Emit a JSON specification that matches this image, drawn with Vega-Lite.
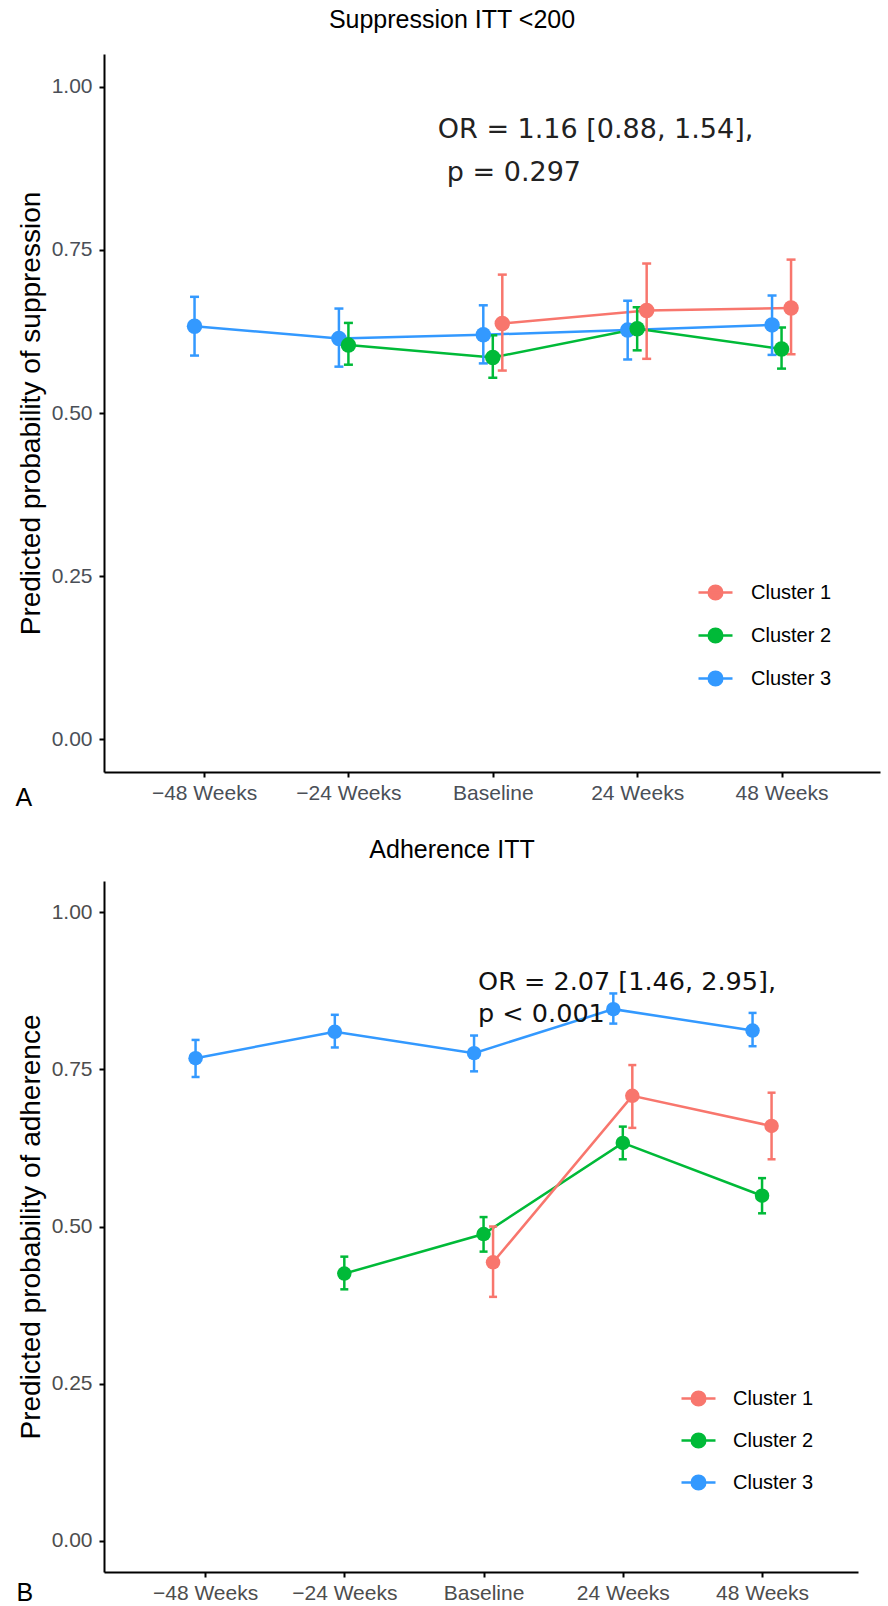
{
  "$schema": "https://vega.github.io/schema/vega-lite/v6.json",
  "background": "white",
  "padding": {"left": 15, "top": 8, "right": 4, "bottom": 4},
  "columns": 1,
  "spacing": 28,
  "resolve": {"legend": {"fill": "independent", "stroke": "independent"}},
  "config": {
    "font": "Liberation Sans",
    "view": {"stroke": null},
    "axis": {"grid": false, "domainColor": "black", "domainWidth": 2, "tickColor": "black", "tickWidth": 2, "tickSize": 5, "labelFontSize": 21, "labelColor": "#4A4F57", "titleFontSize": 28, "titleFontWeight": "normal", "titleColor": "black", "labelFont": "Liberation Sans", "titleFont": "Liberation Sans"},
    "title": {"fontSize": 25, "fontWeight": "normal", "color": "black", "font": "Liberation Sans"},
    "legend": {"title": null, "labelFontSize": 20, "labelColor": "black", "labelFont": "Liberation Sans", "symbolStrokeWidth": 2.5, "symbolOpacity": 1}
  },
  "datasets": {
    "a": [
      {"time": "−48 Weeks", "cluster": "Cluster 3", "p": 0.633, "lo": 0.588, "hi": 0.678},
      {"time": "−24 Weeks", "cluster": "Cluster 3", "p": 0.614, "lo": 0.571, "hi": 0.660},
      {"time": "Baseline", "cluster": "Cluster 3", "p": 0.620, "lo": 0.576, "hi": 0.665},
      {"time": "24 Weeks", "cluster": "Cluster 3", "p": 0.627, "lo": 0.582, "hi": 0.672},
      {"time": "48 Weeks", "cluster": "Cluster 3", "p": 0.635, "lo": 0.589, "hi": 0.680},
      {"time": "−24 Weeks", "cluster": "Cluster 2", "p": 0.604, "lo": 0.574, "hi": 0.638},
      {"time": "Baseline", "cluster": "Cluster 2", "p": 0.585, "lo": 0.554, "hi": 0.619},
      {"time": "24 Weeks", "cluster": "Cluster 2", "p": 0.629, "lo": 0.596, "hi": 0.662},
      {"time": "48 Weeks", "cluster": "Cluster 2", "p": 0.598, "lo": 0.568, "hi": 0.631},
      {"time": "Baseline", "cluster": "Cluster 1", "p": 0.637, "lo": 0.565, "hi": 0.712},
      {"time": "24 Weeks", "cluster": "Cluster 1", "p": 0.657, "lo": 0.583, "hi": 0.729},
      {"time": "48 Weeks", "cluster": "Cluster 1", "p": 0.661, "lo": 0.590, "hi": 0.735}
    ],
    "b": [
      {"time": "−48 Weeks", "cluster": "Cluster 3", "p": 0.768, "lo": 0.738, "hi": 0.797},
      {"time": "−24 Weeks", "cluster": "Cluster 3", "p": 0.810, "lo": 0.785, "hi": 0.837},
      {"time": "Baseline", "cluster": "Cluster 3", "p": 0.776, "lo": 0.747, "hi": 0.804},
      {"time": "24 Weeks", "cluster": "Cluster 3", "p": 0.846, "lo": 0.823, "hi": 0.871},
      {"time": "48 Weeks", "cluster": "Cluster 3", "p": 0.812, "lo": 0.787, "hi": 0.840},
      {"time": "−24 Weeks", "cluster": "Cluster 2", "p": 0.425, "lo": 0.400, "hi": 0.452},
      {"time": "Baseline", "cluster": "Cluster 2", "p": 0.488, "lo": 0.460, "hi": 0.515},
      {"time": "24 Weeks", "cluster": "Cluster 2", "p": 0.633, "lo": 0.607, "hi": 0.659},
      {"time": "48 Weeks", "cluster": "Cluster 2", "p": 0.549, "lo": 0.521, "hi": 0.577},
      {"time": "Baseline", "cluster": "Cluster 1", "p": 0.443, "lo": 0.388, "hi": 0.500},
      {"time": "24 Weeks", "cluster": "Cluster 1", "p": 0.708, "lo": 0.657, "hi": 0.757},
      {"time": "48 Weeks", "cluster": "Cluster 1", "p": 0.660, "lo": 0.607, "hi": 0.713}
    ]
  },
  "concat": [
    {
      "width": 776,
      "height": 718,
      "title": {"text": "Suppression ITT <200", "anchor": "middle", "dx": -40, "offset": 21},
      "layer": [
        {
          "data": {"name": "a"},
          "encoding": {
            "x": {"field": "time", "type": "nominal", "sort": ["−48 Weeks", "−24 Weeks", "Baseline", "24 Weeks", "48 Weeks"],
                  "scale": {"type": "point", "domain": ["−48 Weeks", "−24 Weeks", "Baseline", "24 Weeks", "48 Weeks"], "padding": 0.6874, "align": 0.504},
                  "axis": {"title": "A", "labelAngle": 0, "labelPadding": 5, "titleAnchor": "start", "titleAlign": "left", "titleX": -89, "titleY": 33, "titleBaseline": "alphabetic", "titleFontSize": 25}},
            "xOffset": {"field": "cluster", "type": "nominal", "scale": {"type": "point", "domain": ["Cluster 3", "Cluster 2", "Cluster 1"], "range": [-9.5, 9.5], "padding": 0}},
            "y": {"field": "p", "type": "quantitative", "scale": {"domain": [-0.05, 1.05], "nice": false, "zero": false},
                  "axis": {"title": "Predicted probability of suppression", "values": [0, 0.25, 0.5, 0.75, 1], "format": ".2f", "labelPadding": 7, "titlePadding": 6}}
          },
          "layer": [
            {
              "mark": {"type": "line", "strokeWidth": 2.5},
              "encoding": {
                "stroke": {"field": "cluster", "type": "nominal", "scale": {"domain": ["Cluster 1", "Cluster 2", "Cluster 3"], "range": ["#F8766D", "#00BA38", "#3399FF"]},
                           "legend": {"orient": "none", "legendX": 593, "legendY": 520, "symbolType": "M-1,0L1,0M0.4,0A0.4,0.4,0,1,1,-0.4,0A0.4,0.4,0,1,1,0.4,0Z", "symbolSize": 1156, "labelOffset": 17, "rowPadding": 12}}
              }
            },
            {
              "mark": {"type": "rule", "strokeWidth": 2.5},
              "encoding": {
                "y": {"field": "lo", "type": "quantitative"},
                "y2": {"field": "hi"},
                "stroke": {"field": "cluster", "type": "nominal"}
              }
            },
            {
              "mark": {"type": "tick", "thickness": 2.5, "size": 9, "opacity": 1},
              "encoding": {
                "y": {"field": "lo", "type": "quantitative"},
                "fill": {"field": "cluster", "type": "nominal"}
              }
            },
            {
              "mark": {"type": "tick", "thickness": 2.5, "size": 9, "opacity": 1},
              "encoding": {
                "y": {"field": "hi", "type": "quantitative"},
                "fill": {"field": "cluster", "type": "nominal"}
              }
            },
            {
              "mark": {"type": "point", "filled": true, "size": 240, "opacity": 1, "strokeWidth": 0},
              "encoding": {
                "fill": {"field": "cluster", "type": "nominal", "scale": {"domain": ["Cluster 1", "Cluster 2", "Cluster 3"], "range": ["#F8766D", "#00BA38", "#3399FF"]},
                         "legend": {"orient": "none", "legendX": 593, "legendY": 520, "symbolType": "M-1,0L1,0M0.4,0A0.4,0.4,0,1,1,-0.4,0A0.4,0.4,0,1,1,0.4,0Z", "symbolSize": 1156, "labelOffset": 17, "rowPadding": 12}},
                "stroke": {"field": "cluster", "type": "nominal"}
              }
            }
          ]
        },
        {
          "data": {"values": [{"label": "OR = 1.16 [0.88, 1.54],"}]},
          "mark": {"type": "text", "align": "left", "baseline": "middle", "dx": -55, "font": "DejaVu Sans", "fontSize": 27, "color": "#222222"},
          "encoding": {
            "x": {"datum": "Baseline"},
            "y": {"datum": 0.934},
            "text": {"field": "label"}
          }
        },
        {
          "data": {"values": [{"label": "p = 0.297"}]},
          "mark": {"type": "text", "align": "left", "baseline": "middle", "dx": -46, "font": "DejaVu Sans", "fontSize": 27, "color": "#222222"},
          "encoding": {
            "x": {"datum": "Baseline"},
            "y": {"datum": 0.868},
            "text": {"field": "label"}
          }
        }
      ]
    },
    {
      "width": 754,
      "height": 691,
      "title": {"text": "Adherence ITT", "anchor": "middle", "dx": -29, "offset": 18},
      "layer": [
        {
          "data": {"name": "b"},
          "encoding": {
            "x": {"field": "time", "type": "nominal", "sort": ["−48 Weeks", "−24 Weeks", "Baseline", "24 Weeks", "48 Weeks"],
                  "scale": {"type": "point", "domain": ["−48 Weeks", "−24 Weeks", "Baseline", "24 Weeks", "48 Weeks"], "padding": 0.7074, "align": 0.513},
                  "axis": {"title": "B", "labelAngle": 0, "labelPadding": 5, "labelColor": "#4D4D4D", "titleAnchor": "start", "titleAlign": "left", "titleX": -88, "titleY": 28, "titleBaseline": "alphabetic", "titleFontSize": 25}},
            "xOffset": {"field": "cluster", "type": "nominal", "scale": {"type": "point", "domain": ["Cluster 3", "Cluster 2", "Cluster 1"], "range": [-9.5, 9.5], "padding": 0}},
            "y": {"field": "p", "type": "quantitative", "scale": {"domain": [-0.05, 1.05], "nice": false, "zero": false},
                  "axis": {"title": "Predicted probability of adherence", "values": [0, 0.25, 0.5, 0.75, 1], "format": ".2f", "labelPadding": 7, "titlePadding": 6, "labelColor": "#4D4D4D"}}
          },
          "layer": [
            {
              "mark": {"type": "line", "strokeWidth": 2.5},
              "encoding": {
                "stroke": {"field": "cluster", "type": "nominal", "scale": {"domain": ["Cluster 1", "Cluster 2", "Cluster 3"], "range": ["#F8766D", "#00BA38", "#3399FF"]},
                           "legend": {"orient": "none", "legendX": 576, "legendY": 499, "symbolType": "M-1,0L1,0M0.4,0A0.4,0.4,0,1,1,-0.4,0A0.4,0.4,0,1,1,0.4,0Z", "symbolSize": 1156, "labelOffset": 16, "rowPadding": 11}}
              }
            },
            {
              "mark": {"type": "rule", "strokeWidth": 2.5},
              "encoding": {
                "y": {"field": "lo", "type": "quantitative"},
                "y2": {"field": "hi"},
                "stroke": {"field": "cluster", "type": "nominal"}
              }
            },
            {
              "mark": {"type": "tick", "thickness": 2.5, "size": 8, "opacity": 1},
              "encoding": {
                "y": {"field": "lo", "type": "quantitative"},
                "fill": {"field": "cluster", "type": "nominal"}
              }
            },
            {
              "mark": {"type": "tick", "thickness": 2.5, "size": 8, "opacity": 1},
              "encoding": {
                "y": {"field": "hi", "type": "quantitative"},
                "fill": {"field": "cluster", "type": "nominal"}
              }
            },
            {
              "mark": {"type": "point", "filled": true, "size": 210, "opacity": 1, "strokeWidth": 0},
              "encoding": {
                "fill": {"field": "cluster", "type": "nominal", "scale": {"domain": ["Cluster 1", "Cluster 2", "Cluster 3"], "range": ["#F8766D", "#00BA38", "#3399FF"]},
                         "legend": {"orient": "none", "legendX": 576, "legendY": 499, "symbolType": "M-1,0L1,0M0.4,0A0.4,0.4,0,1,1,-0.4,0A0.4,0.4,0,1,1,0.4,0Z", "symbolSize": 1156, "labelOffset": 16, "rowPadding": 11}},
                "stroke": {"field": "cluster", "type": "nominal"}
              }
            }
          ]
        },
        {
          "data": {"values": [{"label": "OR = 2.07 [1.46, 2.95],"}]},
          "mark": {"type": "text", "align": "left", "baseline": "middle", "dx": -5.5, "font": "DejaVu Sans", "fontSize": 25.5, "color": "#111111"},
          "encoding": {
            "x": {"datum": "Baseline"},
            "y": {"datum": 0.889},
            "text": {"field": "label"}
          }
        },
        {
          "data": {"values": [{"label": "p < 0.001"}]},
          "mark": {"type": "text", "align": "left", "baseline": "middle", "dx": -5.5, "font": "DejaVu Sans", "fontSize": 25.5, "color": "#111111"},
          "encoding": {
            "x": {"datum": "Baseline"},
            "y": {"datum": 0.838},
            "text": {"field": "label"}
          }
        }
      ]
    }
  ]
}
